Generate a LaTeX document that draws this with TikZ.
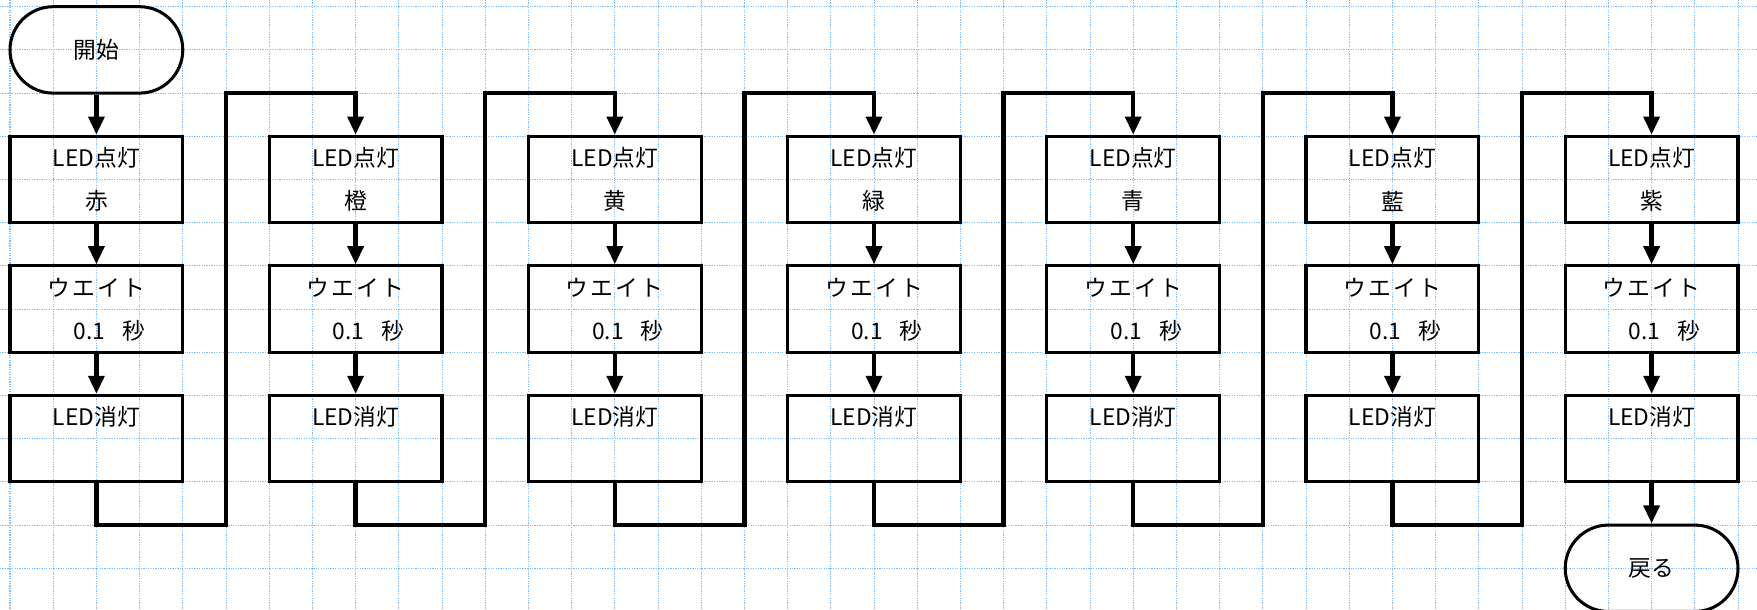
\documentclass[tikz,border=0pt]{standalone}
\usepackage{fontspec}
\setmainfont{Noto Sans CJK JP}
\usetikzlibrary{arrows.meta,calc}
\definecolor{gridblue}{RGB}{125,190,255}
\tikzset{
  gridline/.style={draw=gridblue, line width=0.66pt, dash pattern=on 0.8pt off 0.8pt},
  procbox/.style={draw=black, line width=2pt, rectangle, minimum width=4cm, minimum height=2cm, inner sep=0pt},
  termbox/.style={draw=black, line width=2pt, rectangle, rounded corners=1cm, minimum width=4cm, minimum height=2cm, inner sep=0pt},
  lbl/.style={inner sep=0pt, font=\fontsize{15pt}{18pt}\selectfont},
  conn/.style={draw=black, line width=3pt, line join=miter},
  arr/.style={conn, -{Triangle[width=0.36cm,length=0.42cm]}},
}
\begin{document}
\begin{tikzpicture}
\useasboundingbox (-0.2315,0.155) rectangle (40.44,-13.965);
\clip (-0.2315,0.155) rectangle (40.44,-13.965);
% grid
\foreach \i in {0,...,40} \draw[gridline] (\i,0.155) -- (\i,-13.965);
\foreach \j in {0,...,13} \draw[gridline] (-0.2315,-\j) -- (40.44,-\j);
% start
\node[termbox] (start) at (2,-1) {};
\node[lbl] (startlbl) at (2,-1) {開始};
% columns
\foreach \k/\col in {0/赤,1/橙,2/黄,3/緑,4/青,5/藍,6/紫} {
  \pgfmathsetmacro{\cx}{2+6*\k}
  \node[procbox] (A\k) at (\cx,-4) {};
  \node[lbl] (A\k t1) at (\cx,-3.5) {LED点灯};
  \node[lbl] (A\k t2) at (\cx,-4.5) {\col};
  \node[procbox] (W\k) at (\cx,-7) {};
  \node[lbl] (W\k t1) at (\cx,-6.5) {ウ\hspace{0.1em}エ\hspace{0.1em}イ\hspace{0.1em}ト};
  \node[lbl] (W\k t2) at (\cx+0.3,-7.5) {0.1\hspace{0.75em}秒};
  \node[procbox] (O\k) at (\cx,-10) {};
  \node[lbl] (O\k t1) at (\cx,-9.5) {LED消灯};
  \draw[arr] (A\k.south) -- (W\k.north);
  \draw[arr] (W\k.south) -- (O\k.north);
}
% end
\node[termbox] (stop) at (38,-13) {};
\node[lbl] (stoplbl) at (38,-13) {戻る};
\draw[arr] (start.south) -- (A0.north);
\draw[arr] (O6.south) -- (stop.north);
% zig-zag connectors
\foreach \k in {0,...,5} {
  \pgfmathtruncatemacro{\n}{\k+1}
  \coordinate (bot\k) at (5+6*\k,-12);
  \coordinate (top\k) at (5+6*\k,-2);
  \draw[arr] (O\k.south) |- (bot\k) -- (top\k) -| (A\n.north);
}
\end{tikzpicture}
\end{document}
